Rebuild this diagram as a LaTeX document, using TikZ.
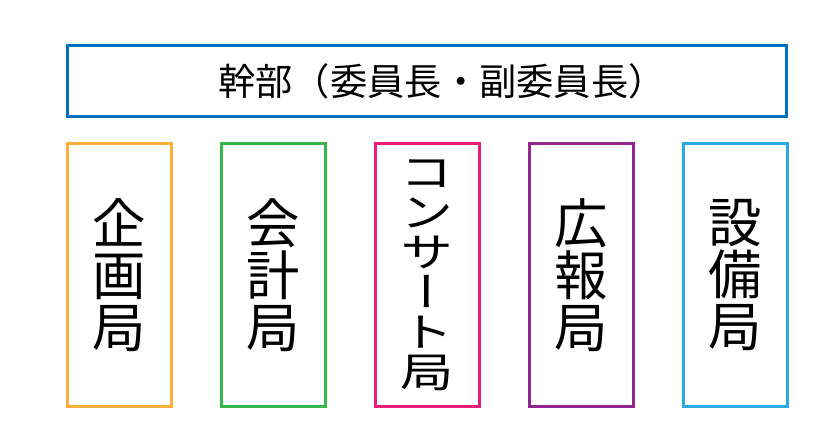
\documentclass[tikz,border=0pt]{standalone}
\usepackage{fontspec}
\setmainfont{Noto Sans CJK JP}
\newfontfamily\tatefont[RawFeature=+vert]{Noto Sans CJK JP}
\usepackage{xcolor}
\usepackage{graphicx}
\usepackage{tikz}
\usetikzlibrary{positioning}
\definecolor{kanbublue}{RGB}{0, 113, 188}
\definecolor{kikakuorange}{RGB}{251, 176, 59}
\definecolor{kaikeigreen}{RGB}{57, 181, 74}
\definecolor{concertpink}{RGB}{237, 30, 121}
\definecolor{kohopurple}{RGB}{147, 39, 143}
\definecolor{setsubiblue}{RGB}{41, 171, 226}

\begin{document}
\begin{tikzpicture}[
    header/.style={rectangle, draw=kanbublue, line width=2.1pt, minimum width=17.975cm,
                   minimum height=1.775cm, inner sep=0pt, font=\fontsize{26.5}{30}\selectfont},
    bureau/.style={rectangle, line width=2.1pt, minimum width=2.6cm, minimum height=6.575cm,
                   inner sep=0pt, align=center, font=\tatefont\fontsize{38}{37}\selectfont}
]
\fill[white] (0,0) rectangle (20.775,-10.875);
\useasboundingbox (0,0) rectangle (20.775,-10.875);

% Executive
\node[header] (kanbu) at (10.675,-2.025) {\hspace*{0.75cm}幹部（委員長・副委員長）};

% Bureaus
\node[bureau, draw=kikakuorange] (kikaku) at (2.99,-6.875) {企\\画\\局};
\node[bureau, draw=kaikeigreen] (kaikei) at (6.84,-6.875) {会\\計\\局};
\node[bureau, draw=concertpink] (concert) at (10.69,-6.875)
    {\scalebox{1}[0.77]{\parbox{1em}{\centering コ\\ン\\サ\\ー\\ト\\局}}};
\node[bureau, draw=kohopurple] (koho) at (14.54,-6.875) {広\\報\\局};
\node[bureau, draw=setsubiblue] (setsubi) at (18.39,-6.875) {設\\備\\局};

\end{tikzpicture}
\end{document}
